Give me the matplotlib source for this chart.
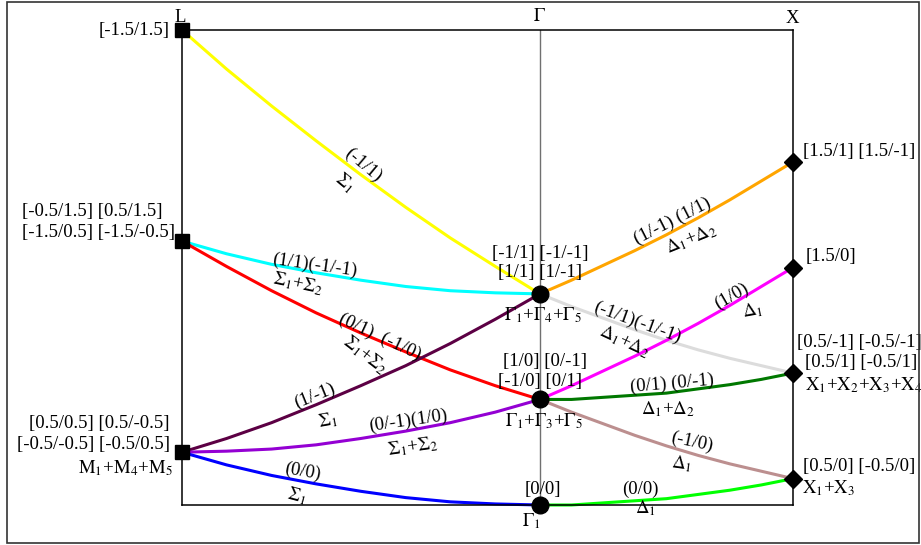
import numpy as np
import matplotlib
matplotlib.use('Agg')
from matplotlib import pyplot as plt
from matplotlib.patches import Rectangle

plt.rcParams['font.family'] = ['Liberation Serif', 'DejaVu Serif']
plt.rcParams['mathtext.fontset'] = 'stix'
plt.rcParams['mathtext.default'] = 'rm'

# k positions along the path (L -> Gamma -> X)
k_L, k_G, k_X = -0.707, 0.0, 0.5
k_LG = [-0.707, -0.619, -0.530, -0.442, -0.354, -0.265, -0.177, -0.088, 0.0]
k_GX = [0.0, 0.0625, 0.125, 0.1875, 0.25, 0.3125, 0.375, 0.4375, 0.5]

# bands on L - Gamma (Sigma)
E_yellow = [4.50, 4.13, 3.78, 3.45, 3.13, 2.82, 2.53, 2.26, 2.00]
E_cyan = [2.50, 2.38, 2.28, 2.20, 2.13, 2.07, 2.03, 2.01, 2.00]
E_red = [2.50, 2.26, 2.03, 1.82, 1.63, 1.45, 1.28, 1.13, 1.00]
E_dpurple = [0.50, 0.63, 0.78, 0.95, 1.13, 1.32, 1.53, 1.76, 2.00]
E_purple = [0.50, 0.51, 0.53, 0.57, 0.63, 0.70, 0.78, 0.88, 1.00]
E_blue = [0.50, 0.38, 0.28, 0.20, 0.13, 0.07, 0.03, 0.01, 0.00]

# bands on Gamma - X (Delta)
E_orange = [2.00, 2.13, 2.27, 2.41, 2.56, 2.72, 2.89, 3.07, 3.25]
E_gray = [2.00, 1.88, 1.77, 1.66, 1.56, 1.47, 1.39, 1.32, 1.25]
E_magenta = [1.00, 1.13, 1.27, 1.41, 1.56, 1.72, 1.89, 2.07, 2.25]
E_dgreen = [1.00, 1.00, 1.02, 1.04, 1.06, 1.10, 1.14, 1.19, 1.25]
E_brown = [1.00, 0.88, 0.77, 0.66, 0.56, 0.47, 0.39, 0.32, 0.25]
E_green = [0.00, 0.00, 0.02, 0.04, 0.06, 0.10, 0.14, 0.19, 0.25]

# degenerate points
E_at_L = [0.5, 2.5, 4.5]
E_at_G = [0.0, 1.0, 2.0]
E_at_X = [0.25, 1.25, 2.25, 3.25]

fig = plt.figure(figsize=(9.21, 5.45), dpi=100)
ax = fig.add_axes([182 / 921, 40 / 545, 611 / 921, 475 / 545])
ax.set_xlim(k_L, k_X)
ax.set_ylim(0, 4.5)
ax.set_xticks([])
ax.set_yticks([])
for s in ax.spines.values():
    s.set_linewidth(1.1)

ax.axvline(k_G, color='#707070', lw=1.0, zorder=1)

bands = [
    (k_LG, E_yellow, '#ffff00'), (k_LG, E_cyan, '#00ffff'), (k_LG, E_red, '#ff0000'),
    (k_LG, E_dpurple, '#5c0044'), (k_LG, E_purple, '#9400d3'), (k_LG, E_blue, '#0000ff'),
    (k_GX, E_orange, '#ffa500'), (k_GX, E_gray, '#dcdcdc'), (k_GX, E_magenta, '#ff00ff'),
    (k_GX, E_dgreen, '#007800'), (k_GX, E_brown, '#bc8f8f'), (k_GX, E_green, '#00ff00'),
]
for k, E, c in bands:
    ax.plot(k, E, color=c, lw=2.2, clip_on=False, zorder=2)

ax.plot([k_L] * len(E_at_L), E_at_L, 's', color='black', ms=10, clip_on=False, zorder=5)
ax.plot([k_G] * len(E_at_G), E_at_G, 'o', color='black', ms=12, clip_on=False, zorder=5)
ax.plot([k_X] * len(E_at_X), E_at_X, 'D', color='black', ms=9, clip_on=False, zorder=5)

fs = 13.5
def lab(x, y, s, ha='center', va='center', rot=0, size=fs):
    ax.text(x, y, s, ha=ha, va=va, rotation=rot, fontsize=size, clip_on=False,
            rotation_mode='anchor', zorder=6)

# path labels
lab(-0.711, 4.62, 'L')
lab(0.0, 4.63, r'$\Gamma$')
lab(0.498, 4.61, 'X')

# labels at L
lab(-0.731, 4.50, '[-1.5/1.5]', ha='right')
lab(-1.024, 2.78, '[-0.5/1.5] [0.5/1.5]', ha='left')
lab(-1.024, 2.58, '[-1.5/0.5] [-1.5/-0.5]', ha='left')
lab(-0.731, 0.77, '[0.5/0.5] [0.5/-0.5]', ha='right')
lab(-0.731, 0.57, '[-0.5/-0.5] [-0.5/0.5]', ha='right')
lab(-0.725, 0.35, r'$\mathrm{M}_1$+$\mathrm{M}_4$+$\mathrm{M}_5$', ha='right')

# labels at Gamma
lab(0.0, 2.38, '[-1/1] [-1/-1]')
lab(0.0, 2.20, '[1/1] [1/-1]')
lab(0.006, 1.80, r'$\Gamma_1$+$\Gamma_4$+$\Gamma_5$')
lab(0.01, 1.36, '[1/0] [0/-1]')
lab(0.0, 1.17, '[-1/0] [0/1]')
lab(0.008, 0.79, r'$\Gamma_1$+$\Gamma_3$+$\Gamma_5$')
lab(0.006, 0.15, '[0/0]')
lab(-0.018, -0.15, r'$\Gamma_1$')

# labels at X
lab(0.520, 3.35, '[1.5/1] [1.5/-1]', ha='left')
lab(0.524, 2.35, '[1.5/0]', ha='left')
lab(0.632, 1.54, '[0.5/-1] [-0.5/-1]')
lab(0.634, 1.35, '[0.5/1] [-0.5/1]')
lab(0.640, 1.14, r'$\mathrm{X}_1$+$\mathrm{X}_2$+$\mathrm{X}_3$+$\mathrm{X}_4$')
lab(0.520, 0.36, '[0.5/0] [-0.5/0]', ha='left')
lab(0.518, 0.16, r'$\mathrm{X}_1$+$\mathrm{X}_3$', ha='left')

# band labels, L - Gamma
lab(-0.350, 3.22, '(-1/1)', rot=-40)
lab(-0.385, 3.05, r'$\Sigma_1$', rot=-40)
lab(-0.445, 2.27, '(1/1)(-1/-1)', rot=-8)
lab(-0.478, 2.10, r'$\Sigma_1$+$\Sigma_2$', rot=-12)
lab(-0.316, 1.59, '(0/1)  (-1/0)', rot=-25)
lab(-0.346, 1.42, r'$\Sigma_1$+$\Sigma_2$', rot=-38)
lab(-0.445, 1.03, '(1/-1)', rot=22)
lab(-0.419, 0.80, r'$\Sigma_1$', rot=10)
lab(-0.261, 0.80, '(0/-1)(1/0)', rot=8)
lab(-0.251, 0.55, r'$\Sigma_1$+$\Sigma_2$', rot=8)
lab(-0.468, 0.32, '(0/0)', rot=-10)
lab(-0.480, 0.09, r'$\Sigma_1$', rot=-15)

# band labels, Gamma - X
lab(0.261, 2.69, '(1/-1) (1/1)', rot=27)
lab(0.300, 2.52, r'$\Delta_1$+$\Delta_2$', rot=22)
lab(0.192, 1.73, '(-1/1)(-1/-1)', rot=-20)
lab(0.168, 1.55, r'$\Delta_1$+$\Delta_2$', rot=-25)
lab(0.379, 1.98, '(1/0)', rot=30)
lab(0.421, 1.84, r'$\Delta_1$', rot=10)
lab(0.261, 1.15, '(0/1) (0/-1)', rot=5)
lab(0.253, 0.91, r'$\Delta_1$+$\Delta_2$')
lab(0.300, 0.60, '(-1/0)', rot=-12)
lab(0.281, 0.39, r'$\Delta_1$', rot=-8)
lab(0.198, 0.15, '(0/0)')
lab(0.208, -0.03, r'$\Delta_1$')

# outer frame
fig.patches.append(Rectangle((7 / 921, 2 / 545), 912 / 921, 541 / 545, transform=fig.transFigure,
                             fill=False, edgecolor='#333333', lw=1.2))

fig.savefig('out.png', dpi=100)
